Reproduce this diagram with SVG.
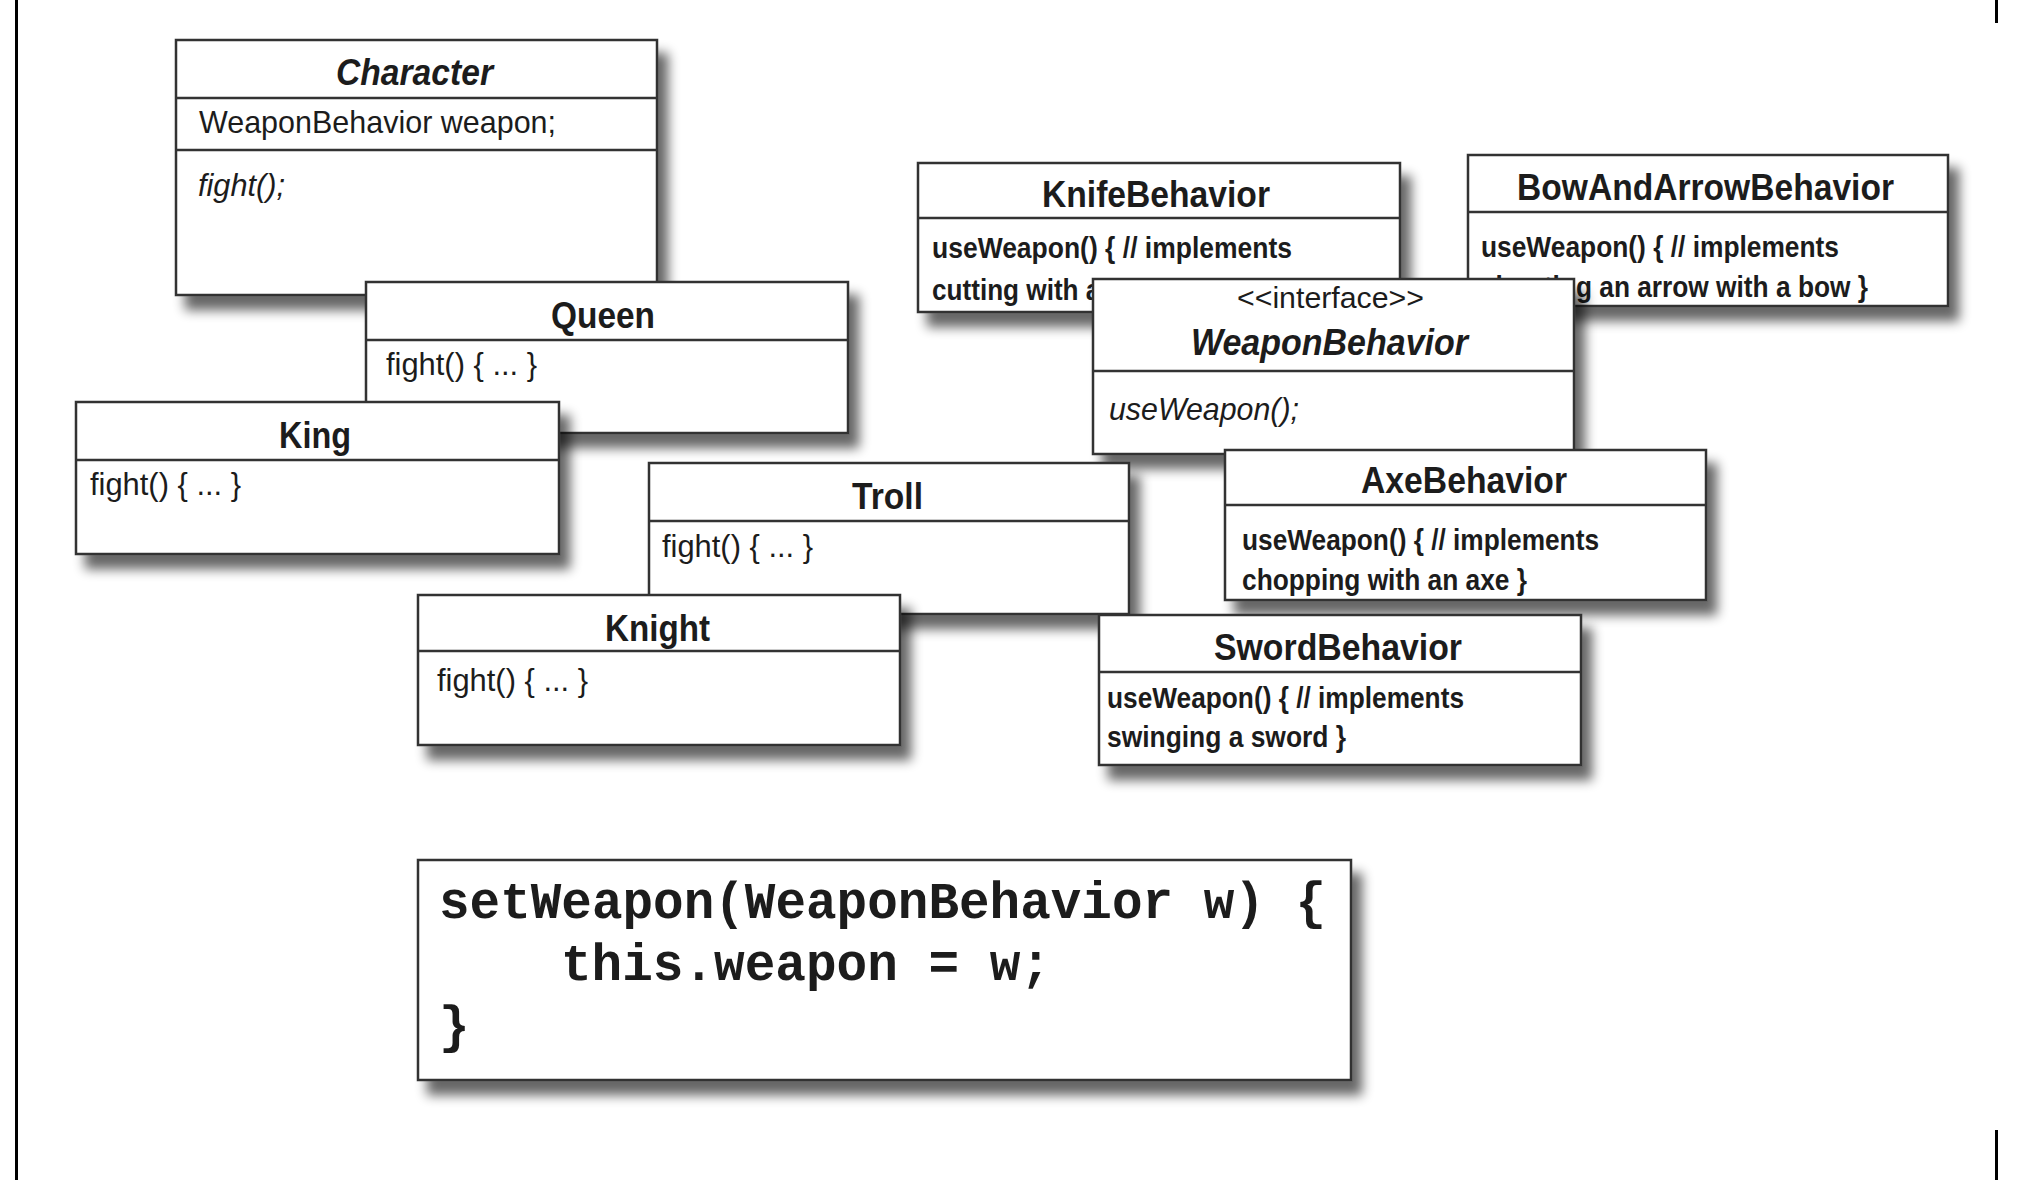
<svg xmlns="http://www.w3.org/2000/svg" width="2028" height="1180" viewBox="0 0 2028 1180">
<defs>
<filter id="sh" x="-10%" y="-10%" width="130%" height="150%">
<feGaussianBlur in="SourceAlpha" stdDeviation="6"/>
<feOffset dx="10" dy="14"/>
<feComponentTransfer><feFuncA type="linear" slope="0.6"/></feComponentTransfer>
<feMerge><feMergeNode/><feMergeNode in="SourceGraphic"/></feMerge>
</filter>
<style>
.box{fill:#fff;stroke:#333;stroke-width:2.5}
.dv{stroke:#333;stroke-width:2.5}
.t{font-family:"Liberation Sans",Arial,sans-serif;fill:#1c1c1c}
.h{font-size:36px;font-weight:bold}
.r{font-size:32px}
.bb{font-size:29px;font-weight:bold}
.i{font-style:italic}
.code{font-family:"Liberation Mono","Courier New",monospace;font-weight:bold;font-size:51px;fill:#1c1c1c}
</style>
</defs>
<rect width="2028" height="1180" fill="#fff"/>
<rect x="15" y="0" width="3" height="1180" fill="#000"/>
<rect x="1995" y="0" width="3" height="23" fill="#000"/>
<rect x="1995" y="1130" width="3" height="50" fill="#000"/>

<g id="Character">
<rect class="box" x="176" y="40" width="481" height="255" filter="url(#sh)"/>
<line class="dv" x1="176" y1="98" x2="657" y2="98"/>
<line class="dv" x1="176" y1="150" x2="657" y2="150"/>
<text class="t h i" x="336" y="85" textLength="157" lengthAdjust="spacingAndGlyphs">Character</text>
<text class="t r" x="199" y="133" textLength="357" lengthAdjust="spacingAndGlyphs">WeaponBehavior weapon;</text>
<text class="t r i" x="198" y="196" textLength="87" lengthAdjust="spacingAndGlyphs">fight();</text>
</g>

<g id="Queen">
<rect class="box" x="366" y="282" width="482" height="151" filter="url(#sh)"/>
<line class="dv" x1="366" y1="340" x2="848" y2="340"/>
<text class="t h" x="551" y="328" textLength="104" lengthAdjust="spacingAndGlyphs">Queen</text>
<text class="t r" x="386" y="375" textLength="151" lengthAdjust="spacingAndGlyphs">fight() { ... }</text>
</g>

<g id="King">
<rect class="box" x="76" y="402" width="483" height="152" filter="url(#sh)"/>
<line class="dv" x1="76" y1="460" x2="559" y2="460"/>
<text class="t h" x="279" y="448" textLength="72" lengthAdjust="spacingAndGlyphs">King</text>
<text class="t r" x="90" y="495" textLength="151" lengthAdjust="spacingAndGlyphs">fight() { ... }</text>
</g>

<g id="KnifeBehavior">
<rect class="box" x="918" y="163" width="482" height="149" filter="url(#sh)"/>
<line class="dv" x1="918" y1="218" x2="1400" y2="218"/>
<text class="t h" x="1042" y="207" textLength="228" lengthAdjust="spacingAndGlyphs">KnifeBehavior</text>
<text class="t bb" x="932" y="258" textLength="360" lengthAdjust="spacingAndGlyphs">useWeapon() { // implements</text>
<text class="t bb" x="932" y="300" textLength="254" lengthAdjust="spacingAndGlyphs">cutting with a knife }</text>
</g>

<g id="BowAndArrowBehavior">
<rect class="box" x="1468" y="155" width="480" height="151" filter="url(#sh)"/>
<line class="dv" x1="1468" y1="212" x2="1948" y2="212"/>
<text class="t h" x="1517" y="200" textLength="377" lengthAdjust="spacingAndGlyphs">BowAndArrowBehavior</text>
<text class="t bb" x="1481" y="257" textLength="358" lengthAdjust="spacingAndGlyphs">useWeapon() { // implements</text>
<text class="t bb" x="1481" y="297" textLength="387" lengthAdjust="spacingAndGlyphs">shooting an arrow with a bow }</text>
</g>

<g id="WeaponBehavior">
<rect class="box" x="1093" y="279" width="481" height="175" filter="url(#sh)"/>
<line class="dv" x1="1093" y1="371" x2="1574" y2="371"/>
<text class="t" x="1237" y="308" font-size="30" textLength="187" lengthAdjust="spacingAndGlyphs">&lt;&lt;interface&gt;&gt;</text>
<text class="t h i" x="1191" y="355" textLength="277" lengthAdjust="spacingAndGlyphs">WeaponBehavior</text>
<text class="t r i" x="1109" y="420" textLength="190" lengthAdjust="spacingAndGlyphs">useWeapon();</text>
</g>

<g id="AxeBehavior">
<rect class="box" x="1225" y="450" width="481" height="150" filter="url(#sh)"/>
<line class="dv" x1="1225" y1="505" x2="1706" y2="505"/>
<text class="t h" x="1361" y="493" textLength="206" lengthAdjust="spacingAndGlyphs">AxeBehavior</text>
<text class="t bb" x="1242" y="550" textLength="357" lengthAdjust="spacingAndGlyphs">useWeapon() { // implements</text>
<text class="t bb" x="1242" y="590" textLength="285" lengthAdjust="spacingAndGlyphs">chopping with an axe }</text>
</g>

<g id="Troll">
<rect class="box" x="649" y="463" width="480" height="151" filter="url(#sh)"/>
<line class="dv" x1="649" y1="521" x2="1129" y2="521"/>
<text class="t h" x="852" y="509" textLength="71" lengthAdjust="spacingAndGlyphs">Troll</text>
<text class="t r" x="662" y="557" textLength="151" lengthAdjust="spacingAndGlyphs">fight() { ... }</text>
</g>

<g id="SwordBehavior">
<rect class="box" x="1099" y="615" width="482" height="150" filter="url(#sh)"/>
<line class="dv" x1="1099" y1="672" x2="1581" y2="672"/>
<text class="t h" x="1214" y="660" textLength="248" lengthAdjust="spacingAndGlyphs">SwordBehavior</text>
<text class="t bb" x="1107" y="708" textLength="357" lengthAdjust="spacingAndGlyphs">useWeapon() { // implements</text>
<text class="t bb" x="1107" y="747" textLength="239" lengthAdjust="spacingAndGlyphs">swinging a sword }</text>
</g>

<g id="Knight">
<rect class="box" x="418" y="595" width="482" height="150" filter="url(#sh)"/>
<line class="dv" x1="418" y1="651" x2="900" y2="651"/>
<text class="t h" x="605" y="641" textLength="105" lengthAdjust="spacingAndGlyphs">Knight</text>
<text class="t r" x="437" y="691" textLength="151" lengthAdjust="spacingAndGlyphs">fight() { ... }</text>
</g>

<g id="setWeaponCode">
<rect class="box" x="418" y="860" width="933" height="220" filter="url(#sh)"/>
<text class="code" x="439" y="918" textLength="887" lengthAdjust="spacingAndGlyphs">setWeapon(WeaponBehavior w) {</text>
<text class="code" x="561" y="980" textLength="490" lengthAdjust="spacingAndGlyphs">this.weapon = w;</text>
<text class="code" x="439" y="1042">}</text>
</g>

<g id="connectors"/>
</svg>
